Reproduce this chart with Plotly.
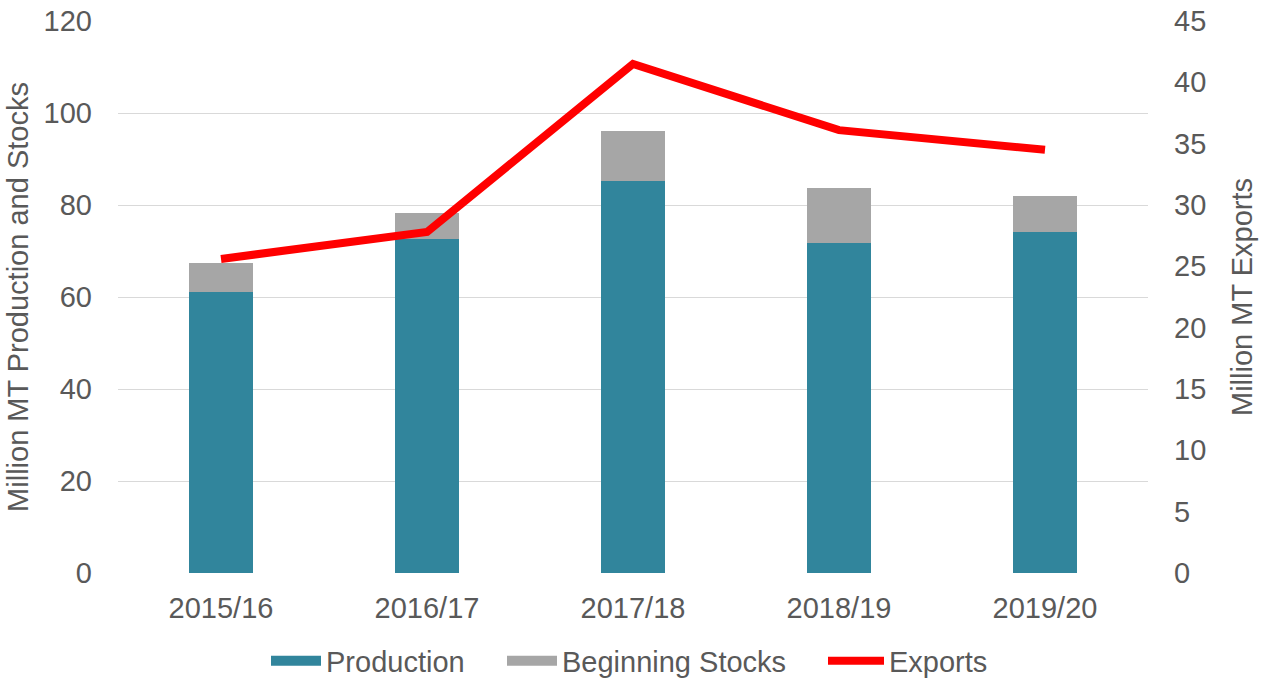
import plotly.graph_objects as go

years = ["2015/16", "2016/17", "2017/18", "2018/19", "2019/20"]
production = [61.1, 72.6, 85.3, 71.8, 74.2]
beginning_stocks = [6.3, 5.7, 10.8, 12.0, 7.8]
exports = [25.6, 27.8, 41.5, 36.1, 34.5]

font_family = "Liberation Sans, Arial, sans-serif"
txt = "#595959"
fs = 29
c_prod = "#31859C"
c_stock = "#A6A6A6"
c_exp = "#FF0000"

W, H = 1267, 679

fig = go.Figure()
fig.add_trace(go.Bar(x=years, y=production, name="Production", showlegend=False,
                     marker=dict(color=c_prod, line=dict(width=0))))
fig.add_trace(go.Bar(x=years, y=beginning_stocks, name="Beginning Stocks", showlegend=False,
                     marker=dict(color=c_stock, line=dict(width=0))))
fig.add_trace(go.Scatter(x=years, y=exports, name="Exports", yaxis="y2", showlegend=False,
                         mode="lines", line=dict(color=c_exp, width=8)))

# legend-only entries (wide rectangular swatches like the reference)
fig.add_trace(go.Scatter(x=[None], y=[None], name="Production", mode="lines", legend="legend",
                         line=dict(color=c_prod, width=15)))
fig.add_trace(go.Scatter(x=[None], y=[None], name="Beginning Stocks", mode="lines", legend="legend2",
                         line=dict(color=c_stock, width=15)))
fig.add_trace(go.Scatter(x=[None], y=[None], name="Exports", mode="lines", yaxis="y2", legend="legend3",
                         line=dict(color=c_exp, width=8)))

leg_common = dict(orientation="h", xanchor="left", xref="container",
                  y=18 / H, yanchor="middle", yref="container",
                  font=dict(size=fs, color=txt), bgcolor="rgba(0,0,0,0)")

fig.update_layout(
    width=W, height=H,
    barmode="stack", bargap=0.69,
    plot_bgcolor="white", paper_bgcolor="white",
    margin=dict(l=118, r=119, t=21, b=106, autoexpand=False),
    font=dict(family=font_family, size=fs, color=txt),
    xaxis=dict(showgrid=False, showline=False, ticks="", ticklabelstandoff=15, automargin=False,
               tickfont=dict(size=fs, color=txt), ticklabeloverflow="allow"),
    yaxis=dict(range=[0, 120], dtick=20, showgrid=True, gridcolor="#D9D9D9", gridwidth=1.3,
               zeroline=False, showline=False, ticks="", ticklabelstandoff=25, automargin=False,
               tickfont=dict(size=fs, color=txt), ticklabeloverflow="allow",
               title=dict(text="Million MT Production and Stocks", font=dict(size=fs, color=txt), standoff=6)),
    yaxis2=dict(range=[0, 45], dtick=5, overlaying="y", side="right", showgrid=False,
                zeroline=False, showline=False, ticks="", ticklabelstandoff=25, automargin=False,
                tickfont=dict(size=fs, color=txt), ticklabeloverflow="allow",
                title=dict(text="Million MT Exports", font=dict(size=fs, color=txt), standoff=26)),
    legend=dict(x=266 / W, itemwidth=50, **leg_common),
    legend2=dict(x=502 / W, itemwidth=50, **leg_common),
    legend3=dict(x=823 / W, itemwidth=56, **leg_common),
    showlegend=True,
)

fig.write_html("out.html", config={"displayModeBar": False},
               post_script="document.body.style.margin='0px';")
